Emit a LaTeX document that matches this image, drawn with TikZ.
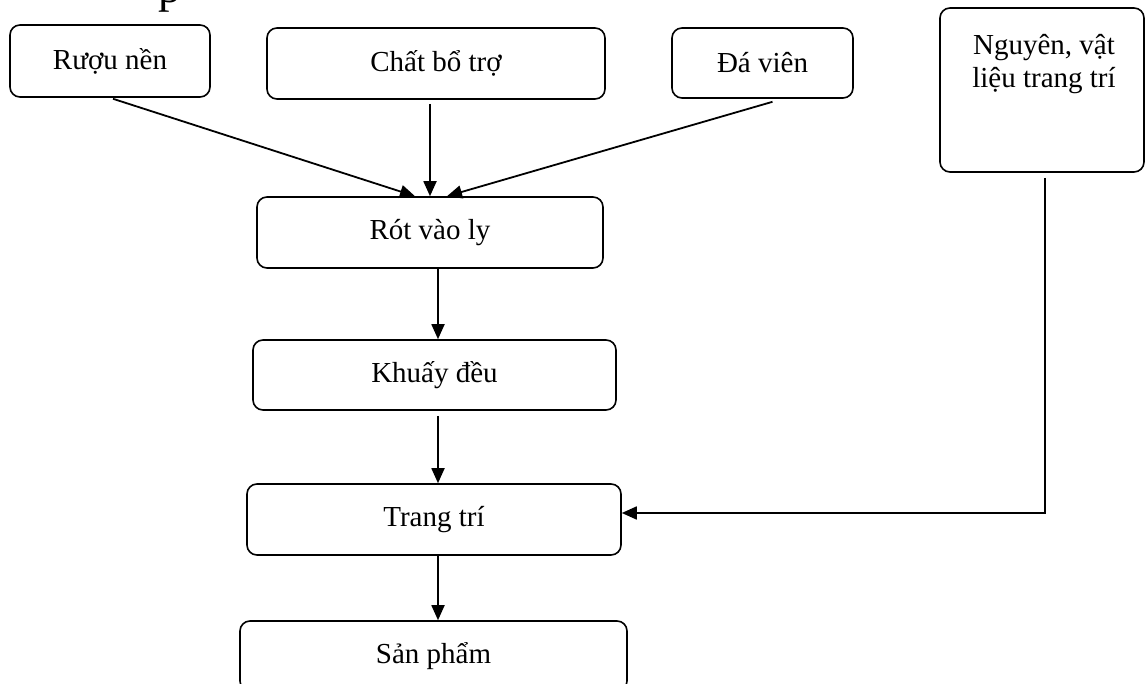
\documentclass[tikz,border=0pt]{standalone}
\usepackage{fontspec}
\setmainfont{Liberation Serif}
\usetikzlibrary{arrows.meta,calc}
\tikzset{
  box/.style={draw, line width=1.6pt, rounded corners=10pt, inner sep=0pt,
              font=\fontsize{29}{33}\selectfont},
  arr/.style={line width=1.8pt, -{Triangle[length=15pt,width=13pt]}},
}
\begin{document}
\begin{tikzpicture}[x=1pt,y=-1pt]
\useasboundingbox (0,0) rectangle (1146,684);
\clip (0,0) rectangle (1146,684);
% partial heading glyph cut by the top edge
\node[anchor=base, inner sep=0pt, font=\fontsize{46}{46}\selectfont] (head) at (170,3) {p};
% boxes
\node[box, minimum width=200pt, minimum height=72pt] (rn) at (110,61) {Rượu nền};
\node[box, minimum width=338pt, minimum height=71pt] (cb) at (436,63.5) {Chất bổ trợ};
\node[box, minimum width=181pt, minimum height=70pt] (dv) at (762.5,63) {Đá viên};
\node[box, minimum width=204pt, minimum height=164pt] (nv) at (1042,90) {};
\node[align=center, anchor=north, inner sep=0pt, font=\fontsize{29}{33}\selectfont] (nvt) at (1044,34) {Nguyên, vật\\liệu trang trí};
\node[box, minimum width=346pt, minimum height=71pt] (rv) at (430,232.5) {Rót vào ly};
\node[box, minimum width=363pt, minimum height=70pt] (kd) at (434.5,375) {Khuấy đều};
\node[box, minimum width=374pt, minimum height=71pt] (tt) at (434,519.5) {Trang trí};
\node[box, minimum width=387pt, minimum height=70pt] (sp) at (433.5,656) {Sản phẩm};
% connectors
\draw[arr] ([xshift=3pt,yshift=-1pt]rn.south) -- ([xshift=-15pt]rv.north);
\draw[arr] ([yshift=-4pt]rv.north |- cb.south) -- (rv.north);
\draw[arr] ([xshift=10pt,yshift=-3pt]dv.south) -- ([xshift=17pt]rv.north);
\draw[arr] ([xshift=3.5pt]kd.north |- rv.south) -- ([xshift=3.5pt]kd.north);
\draw[arr] ([xshift=3.5pt,yshift=-5pt]kd.south) -- ([xshift=3.5pt]kd.south |- tt.north);
\draw[arr] ([xshift=4pt]tt.south) -- ([xshift=4pt]tt.south |- sp.north);
\draw[arr] ([xshift=3pt,yshift=-5pt]nv.south) |- ([yshift=6.5pt]tt.east);
\end{tikzpicture}
\end{document}
